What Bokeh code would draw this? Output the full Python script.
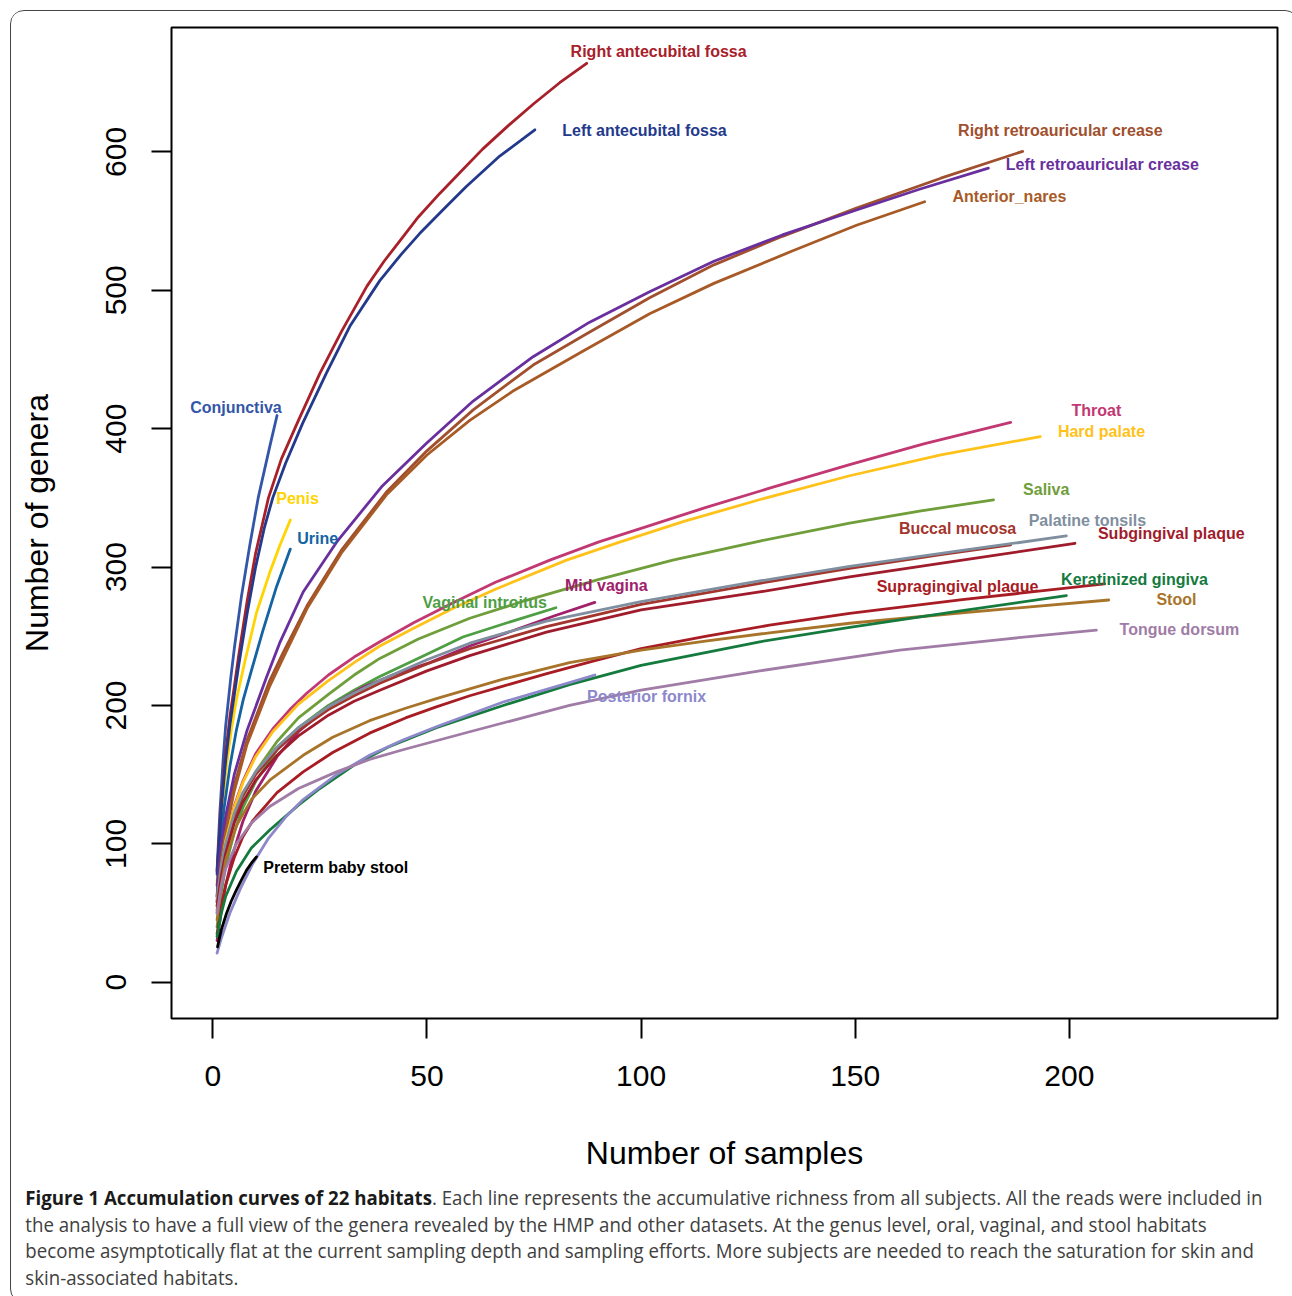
from bokeh.plotting import figure
from bokeh.layouts import column
from bokeh.models import FixedTicker, Range1d, ColumnDataSource, Div
from bokeh.core.properties import value
from bokeh.embed import file_html
from bokeh.resources import INLINE

# ---------------- data ----------------
x_conjunctiva = [1, 1.6, 2.4, 3, 4.2, 5.1, 6.7, 8.6, 10.6, 13.3, 15]
y_conjunctiva = [81, 120, 160, 185, 220, 243, 279, 315, 350, 387, 409.5]

x_penis = [1, 2, 3.2, 4.3, 5.5, 7.5, 10.2, 13.3, 15.7, 18.1]
y_penis = [72, 122, 156, 182, 204, 232, 267, 296, 316, 334]

x_urine = [1, 1.6, 2.6, 4, 5.5, 7.1, 9, 11.7, 14.9, 18.1]
y_urine = [62, 95, 125, 156, 182, 204, 225, 254, 286, 313]

x_right_antecubital = [1, 2, 3, 4, 5, 6, 8, 10, 13, 16, 20, 25, 30, 36, 40, 44, 48, 53, 58, 63, 69, 75, 81, 87.3]
y_right_antecubital = [80, 130, 165, 192, 213, 235, 275, 310, 350, 378, 406, 440, 470, 503, 521, 537, 553, 570, 586, 602, 619, 635, 650, 664]

x_left_antecubital = [1, 2, 3, 4, 5, 6, 8, 10, 12, 14, 17, 21, 26.5, 32, 39, 44, 48.3, 54, 59.2, 67, 75.2]
y_left_antecubital = [78, 126, 160, 186, 207, 228, 266, 300, 328, 350, 375, 404, 440, 474, 507, 526, 541, 559, 575, 597, 616]

x_right_retro = [1, 2, 3, 5, 8, 13.3, 16.4, 22, 30, 40.5, 50, 60.8, 74.8, 87, 102, 117, 133, 150.3, 170, 189.1]
y_right_retro = [62, 92, 112, 142, 175, 218, 238, 272, 312, 354, 384, 413.6, 446, 468, 494.6, 518.4, 539, 559.4, 581, 600.4]

x_left_retro = [1, 2, 3, 5, 8, 12.5, 15.6, 21.1, 28.9, 39.4, 49.9, 60.8, 74.8, 88, 102, 117, 133, 150.3, 165, 181.1]
y_left_retro = [70, 100, 120, 150, 182, 220, 245, 282, 318, 358, 389.5, 420, 452, 477, 499, 521, 540, 558, 573, 588.3]

x_anterior_nares = [1, 2, 3, 5, 8, 13.3, 17, 22, 30, 40.5, 50, 60, 70, 87, 102, 117, 135, 150.3, 166.2]
y_anterior_nares = [58, 88, 108, 138, 172, 214, 238, 270, 310, 352, 381, 406, 427, 457, 483, 505, 528, 547, 564]

x_throat = [1, 2, 3, 5, 7, 10, 14, 18, 22, 27, 33, 39, 47, 56, 66, 78.7, 90, 102, 115, 130, 148.7, 166, 186.3]
y_throat = [52, 80, 100, 127, 145, 165, 183, 197, 209, 222, 235, 246, 260, 274, 289, 305, 318, 330, 343, 357, 374, 389, 404.5]

x_hard_palate = [1, 2, 3, 5, 7, 10, 14, 20, 27, 33, 39, 47, 56, 66, 82.6, 95, 110, 128, 148.7, 170, 193.2]
y_hard_palate = [55, 82, 102, 126, 144, 163, 181, 201, 218, 231, 243, 256, 270, 284, 305, 318, 333, 349, 366, 381, 394.3]

x_saliva = [1, 2, 3, 5, 7, 10, 15, 20, 27, 33, 39, 48, 60, 73.2, 90, 107.4, 128, 148.7, 165, 182.3]
y_saliva = [50, 75, 93, 117, 134, 152, 174, 191, 208, 222, 234, 248, 263, 276, 291, 305, 319, 331.7, 340.5, 348.5]

x_vaginal_introitus = [1, 2, 3, 5, 7, 10, 15, 20, 27, 33, 39, 50, 58.4, 70, 80.1]
y_vaginal_introitus = [40, 65, 84, 108, 126, 145, 168, 184, 200, 211, 221, 237, 249.5, 261, 270.6]

x_mid_vagina = [1, 2, 3, 5, 7, 10, 15, 20, 27, 35, 42, 50.7, 60, 70, 80, 89.2]
y_mid_vagina = [30, 52, 70, 96, 116, 138, 163, 181, 199, 213, 222, 231, 243, 254, 265, 274.5]

x_palatine_tonsils = [1, 2, 3, 5, 7, 10, 15, 20, 27, 33, 39, 50, 60, 77.9, 100, 127.7, 148.7, 175, 199.3]
y_palatine_tonsils = [60, 84, 100, 122, 137, 152, 170, 184, 199, 209, 218, 233, 245, 261, 275, 290, 300.5, 312, 322.5]

x_buccal_mucosa = [1, 2, 3, 5, 7, 10, 15, 20, 27, 33, 39, 50, 60, 77.9, 100, 127.7, 148.7, 170, 186.3]
y_buccal_mucosa = [58, 82, 98, 120, 135, 150, 168, 182, 197, 207, 216, 230, 241, 257, 273, 288.3, 299, 309, 316]

x_subgingival = [1, 2, 3, 5, 7, 10, 15, 20, 27, 33, 39, 50, 60, 77.9, 100, 127.7, 148.7, 175, 201.3]
y_subgingival = [55, 77, 93, 115, 130, 146, 164, 178, 193, 203, 211, 225, 236, 253, 269, 282, 293, 305, 317.2]

x_supragingival = [1, 2, 3, 5, 7, 9.4, 15, 21.1, 28, 36.6, 45, 52.2, 60, 67.8, 78, 88.8, 100, 115, 130, 148.7, 175, 208.2]
y_supragingival = [35, 55, 70, 90, 105, 117, 137, 152, 166, 180, 191, 199, 207, 214, 223, 232, 241, 250, 258, 266.6, 276.5, 287.8]

x_stool = [1, 2, 3, 5.5, 9, 13.3, 21.1, 28, 36.6, 45, 52.2, 60, 67.8, 83.3, 100, 115, 130, 148.7, 175, 209.2]
y_stool = [45, 70, 88, 113, 132, 146, 164, 177, 189, 198, 205, 212, 219, 231, 240, 246.5, 252.5, 259.4, 267, 276.2]

x_keratinized = [1, 2, 3, 5.5, 9, 13.3, 20, 25, 33, 41, 52.2, 67.8, 83.3, 100, 127.7, 148.7, 175, 199.3]
y_keratinized = [33, 50, 62, 80, 97, 110, 128, 140, 157, 170, 184, 200, 215, 229, 246, 256.5, 268.5, 279.3]

x_posterior_fornix = [1, 2, 4, 6.5, 9.4, 13, 17.2, 21.1, 28.9, 36.6, 44.4, 52.2, 67.8, 83.3, 89.2]
y_posterior_fornix = [21, 32, 50, 68, 86, 104, 120, 132, 150, 164, 175, 184.6, 202.5, 216.5, 222]

x_tongue_dorsum = [1, 2, 3, 5.5, 9, 13.3, 20, 28.9, 36.6, 44.4, 60, 83.3, 100, 127.7, 160.4, 185, 206.3]
y_tongue_dorsum = [50, 70, 82, 100, 115, 127, 140, 152, 161, 168, 181, 200, 211, 225, 240, 248, 254.5]

x_preterm = [1.1, 2, 3.2, 4.3, 5.5, 6.7, 7.9, 9, 10.2]
y_preterm = [25.5, 38, 49.7, 58.5, 66.5, 74, 81, 86, 90.6]

x_ticks = [0, 50, 100, 150, 200]
y_ticks = [0, 100, 200, 300, 400, 500, 600]

caption_bold = "Figure 1 Accumulation curves of 22 habitats"
caption_lines = [
    ". Each line represents the accumulative richness from all subjects. All the reads were included in",
    "the analysis to have a full view of the genera revealed by the HMP and other datasets. At the genus level, oral, vaginal, and stool habitats",
    "become asymptotically flat at the current sampling depth and sampling efforts. More subjects are needed to reach the saturation for skin and",
    "skin-associated habitats.",
]

# ---------------- styling / layout ----------------
# (name, xs, ys, colour, label centre (x, y) in data units)
series = [
    ("Conjunctiva", x_conjunctiva, y_conjunctiva, "#3356a8", (5.4, 415.0)),
    ("Penis", x_penis, y_penis, "#ffd400", (19.8, 349.9)),
    ("Urine", x_urine, y_urine, "#1463a3", (24.5, 321.0)),
    ("Right antecubital fossa", x_right_antecubital, y_right_antecubital, "#a8202a", (104.1, 672.3)),
    ("Left antecubital fossa", x_left_antecubital, y_left_antecubital, "#233a8c", (100.8, 615.2)),
    ("Right retroauricular crease", x_right_retro, y_right_retro, "#a0502e", (197.9, 615.2)),
    ("Left retroauricular crease", x_left_retro, y_left_retro, "#6a2f9e", (207.7, 590.6)),
    ("Anterior_nares", x_anterior_nares, y_anterior_nares, "#a85a26", (186.0, 567.5)),
    ("Throat", x_throat, y_throat, "#c23872", (206.3, 413.5)),
    ("Hard palate", x_hard_palate, y_hard_palate, "#ffc21a", (207.5, 398.3)),
    ("Saliva", x_saliva, y_saliva, "#6f9e3a", (194.6, 356.4)),
    ("Vaginal introitus", x_vaginal_introitus, y_vaginal_introitus, "#4e9e44", (63.5, 274.7)),
    ("Mid vagina", x_mid_vagina, y_mid_vagina, "#a0206a", (91.9, 287.0)),
    ("Buccal mucosa", x_buccal_mucosa, y_buccal_mucosa, "#a3352c", (173.9, 328.2)),
    ("Palatine tonsils", x_palatine_tonsils, y_palatine_tonsils, "#7f8fa0", (204.2, 333.3)),
    ("Subgingival plaque", x_subgingival, y_subgingival, "#a01c2c", (223.8, 324.6)),
    ("Supragingival plaque", x_supragingival, y_supragingival, "#a81c24", (173.9, 286.3)),
    ("Stool", x_stool, y_stool, "#a8742a", (225.0, 276.9)),
    ("Keratinized gingiva", x_keratinized, y_keratinized, "#157a3d", (215.2, 291.3)),
    ("Posterior fornix", x_posterior_fornix, y_posterior_fornix, "#8c88ca", (101.3, 206.8)),
    ("Tongue dorsum", x_tongue_dorsum, y_tongue_dorsum, "#a07ca6", (225.7, 255.2)),
    ("Preterm baby stool", x_preterm, y_preterm, "#000000", (28.7, 83.1)),
]

FONT = "Liberation Sans"

p = figure(
    frame_width=1106, frame_height=991,
    x_range=Range1d(-9.64, 248.6), y_range=Range1d(-26.2, 689.9),
    output_backend="svg", toolbar_location=None,
    min_border_left=160, min_border_right=11, min_border_top=16, min_border_bottom=160,
    background_fill_color="white", border_fill_color="white",
)

p.grid.visible = False
p.outline_line_color = "black"
p.outline_line_width = 2

for ax, ticks in ((p.xaxis[0], x_ticks), (p.yaxis[0], y_ticks)):
    ax.ticker = FixedTicker(ticks=ticks)
    ax.axis_line_color = None
    ax.major_tick_in = 0
    ax.major_tick_out = 20
    ax.major_tick_line_width = 2
    ax.major_tick_line_color = "black"
    ax.minor_tick_line_color = None
    ax.major_label_text_font = FONT
    ax.major_label_text_font_size = "30px"
    ax.major_label_text_color = "black"
    ax.axis_label_text_font = FONT
    ax.axis_label_text_font_size = "32px"
    ax.axis_label_text_font_style = "normal"
    ax.axis_label_text_color = "black"

p.xaxis[0].axis_label = "Number of samples"
p.xaxis[0].major_label_standoff = 27
p.xaxis[0].axis_label_standoff = 46
p.yaxis[0].axis_label = "Number of genera"
p.yaxis[0].major_label_orientation = "vertical"
p.yaxis[0].major_label_standoff = 25
p.yaxis[0].axis_label_standoff = 49

for name, xs, ys, col, _ in series:
    p.line(xs, ys, line_color=col, line_width=2.8, line_join="round", line_cap="round")

lab = ColumnDataSource(dict(
    x=[s[4][0] for s in series], y=[s[4][1] for s in series],
    text=[s[0] for s in series], color=[s[3] for s in series],
))
p.text(x="x", y="y", text="text", text_color="color", source=lab,
       text_font=value(FONT), text_font_style="bold", text_font_size="16px",
       text_align="center", text_baseline="middle")

# ---------------- caption (HTML strip below the plot) ----------------
first = ('<span style="font-weight:700;color:#1a1a1a">' + caption_bold + '</span>'
         + caption_lines[0])
body = "<br>".join([first] + caption_lines[1:])
cap_html = (
    '<div style="font-family:\'Open Sans\',sans-serif;font-size:20px;line-height:26.7px;'
    'color:#404040;white-space:nowrap;transform:scaleX(0.933);transform-origin:0 0;'
    'padding:2px 0 0 10px;">' + body + '</div>'
)
cap = Div(text=cap_html, width=1277, height=114)

layout = column(p, cap, spacing=0)
layout.styles = {"border": "1.5px solid #444", "border-radius": "14px",
                 "margin-left": "10px", "margin-top": "10px", "overflow": "hidden"}

open("out.html", "w").write(file_html(layout, INLINE))
